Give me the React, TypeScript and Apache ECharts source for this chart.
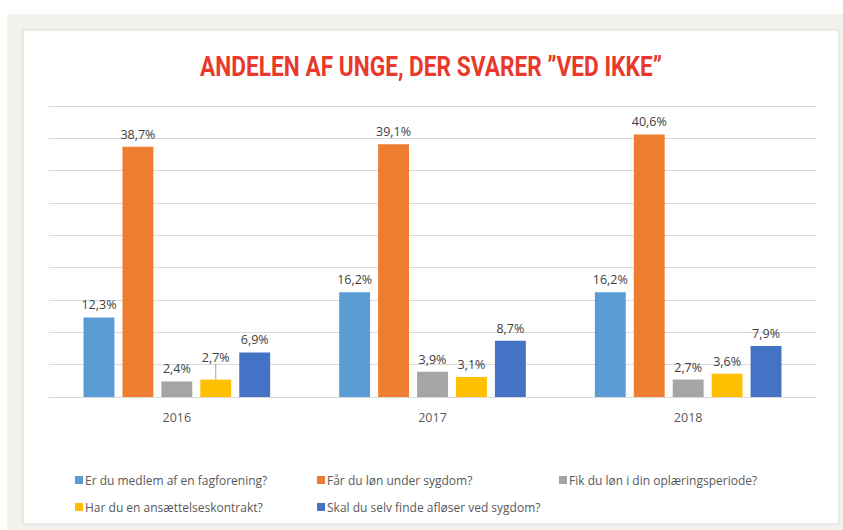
import React, { useEffect, useRef } from "react";
import * as echarts from "echarts";

const categories = ["2016", "2017", "2018"];
const seriesNames = [
  "Er du medlem af en fagforening?",
  "Får du løn under sygdom?",
  "Fik du løn i din oplæringsperiode?",
  "Har du en ansættelseskontrakt?",
  "Skal du selv finde afløser ved sygdom?",
];
const medlem = [12.3, 16.2, 16.2];
const loenSygdom = [38.7, 39.1, 40.6];
const oplaering = [2.4, 3.9, 2.7];
const kontrakt = [2.7, 3.1, 3.6];
const afloeser = [6.9, 8.7, 7.9];
const colors = ["#5B9BD5", "#ED7D31", "#A5A5A5", "#FFC000", "#4472C4"];
const legendPos = [
  [70, 469],
  [312, 469],
  [554, 469],
  [70, 496],
  [312, 496],
];
const titleText = "ANDELEN AF UNGE, DER SVARER ”VED IKKE”";

export default function App() {
  const ref = useRef<HTMLDivElement>(null);
  useEffect(() => {
    if (!ref.current) return;
    const chart = echarts.init(ref.current, null, { renderer: "svg" });
    const values = [medlem, loenSygdom, oplaering, kontrakt, afloeser];
    const fmt = (v: number) => v.toFixed(1).replace(".", ",") + "%";
    const titleFont = "bold 27px Roboto";
    const natural = echarts.format.getTextRect
      ? (echarts.format as any).getTextRect?.(titleText, titleFont)?.width
      : undefined;
    const measureCanvas = document.createElement("canvas").getContext("2d");
    let w = 600;
    if (measureCanvas) {
      measureCanvas.font = titleFont;
      w = measureCanvas.measureText(titleText).width;
    } else if (natural) {
      w = natural;
    }
    const sx = 462 / w;
    chart.setOption({
      animation: false,
      backgroundColor: "#ffffff",
      graphic: [
        { type: "rect", z: -10, silent: true, shape: { x: 7, y: 14, width: 836, height: 516 }, style: { fill: "#F2F1EC" } },
        { type: "rect", z: -9, silent: true, shape: { x: 23, y: 30, width: 816, height: 494 }, style: { fill: "#ffffff", stroke: "#D9D9D9", lineWidth: 1 } },
        {
          type: "text",
          z: 10,
          x: 431,
          y: 67,
          scaleX: sx,
          style: {
            text: titleText,
            font: titleFont,
            fill: "#E8392B",
            textAlign: "center",
            textVerticalAlign: "middle",
          },
        },
      ],
      legend: seriesNames.map((n, i) => ({
        data: [n],
        left: legendPos[i][0],
        top: legendPos[i][1],
        itemWidth: 8,
        itemHeight: 8,
        icon: "rect",
        selectedMode: false,
        textStyle: { fontFamily: "Open Sans", fontSize: 12, color: "#595959", padding: [0, 0, 0, -3] },
      })),
      grid: { left: 49, right: 27, top: 106, bottom: 133 },
      xAxis: {
        type: "category",
        data: categories,
        axisTick: { show: false },
        axisLine: { lineStyle: { color: "#D9D9D9", width: 1 } },
        axisLabel: { color: "#595959", fontFamily: "Open Sans", fontSize: 12.5, margin: 14 },
      },
      yAxis: {
        type: "value",
        min: 0,
        max: 45,
        interval: 5,
        axisLabel: { show: false },
        axisLine: { show: false },
        axisTick: { show: false },
        splitLine: { lineStyle: { color: "#D9D9D9", width: 1 } },
      },
      series: seriesNames.map((n, i) => ({
        name: n,
        type: "bar",
        data: values[i].map((v, j) =>
          i === 3 && j === 0
            ? { value: v, labelLine: { show: true, lineStyle: { color: "#A5A5A5", width: 1 } } }
            : v
        ),
        barGap: "26%",
        barCategoryGap: "27%",
        itemStyle: { color: colors[i] },
        label: {
          show: true,
          position: "top",
          distance: 6,
          formatter: (p: any) => fmt(p.value),
          color: "#404040",
          fontFamily: "Open Sans",
          fontSize: 12.5,
        },
        labelLine: { show: false },
        ...(i === 3
          ? {
              labelLayout: (p: any) => (p.dataIndex === 0 ? { dy: -10 } : {}),
            }
          : {}),
      })),
    });
    return () => chart.dispose();
  }, []);
  return (
    <div
      ref={ref}
      style={{ position: "fixed", left: 0, top: 0, width: 843, height: 530 }}
    />
  );
}
